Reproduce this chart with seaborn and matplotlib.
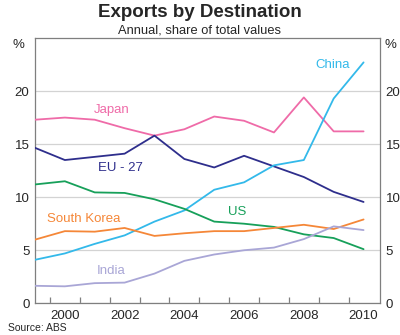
import matplotlib
matplotlib.use("Agg")
import matplotlib.pyplot as plt
import seaborn as sns
import pandas as pd
from matplotlib.ticker import FixedLocator

years = [1999, 2000, 2001, 2002, 2003, 2004, 2005, 2006, 2007, 2008, 2009, 2010]
japan = [17.3, 17.5, 17.3, 16.5, 15.8, 16.4, 17.6, 17.2, 16.1, 19.4, 16.2, 16.2]
eu27 = [14.65, 13.5, 13.8, 14.1, 15.8, 13.6, 12.8, 13.9, 12.9, 11.9, 10.5, 9.55]
china = [4.1, 4.7, 5.6, 6.4, 7.7, 8.75, 10.7, 11.4, 13.0, 13.5, 19.3, 22.7]
us = [11.2, 11.5, 10.45, 10.4, 9.8, 8.9, 7.7, 7.5, 7.2, 6.5, 6.15, 5.1]
south_korea = [6.0, 6.8, 6.75, 7.1, 6.35, 6.6, 6.8, 6.8, 7.1, 7.4, 7.0, 7.9]
india = [1.65, 1.6, 1.9, 1.95, 2.8, 4.0, 4.6, 5.0, 5.25, 6.05, 7.25, 6.9]

series_names = ["Japan", "EU - 27", "China", "US", "South Korea", "India"]
series_values = [japan, eu27, china, us, south_korea, india]
colors = ["#EF6BA8", "#2E2E8C", "#33B9EA", "#17A05A", "#F58738", "#A9A6D6"]
label_pos = [(2001.56, 18.2), (2001.86, 12.75), (2008.98, 22.5),
             (2005.78, 8.65), (2000.64, 7.9), (2001.56, 3.0)]

y_ticks = [0, 5, 10, 15, 20]
x_labels = [2000, 2002, 2004, 2006, 2008, 2010]

rows = []
for name, vals in zip(series_names, series_values):
    for yr, v in zip(years, vals):
        rows.append({"year": yr, "value": v, "series": name})
df = pd.DataFrame(rows)

sns.set_style("white")
plt.rcParams["font.family"] = ["Liberation Sans", "DejaVu Sans"]

fig = plt.figure(figsize=(4.0, 3.35), dpi=100)
ax = fig.add_axes([0.0875, 0.0946, 0.8625, 0.792])

sns.lineplot(data=df, x="year", y="value", hue="series", hue_order=series_names,
             palette=colors, linewidth=1.3, legend=False, ax=ax, zorder=3)

ax.set_xlim(1999, 2010.55)
ax.set_ylim(0, 25)
ax.set_yticks(y_ticks)
ax.yaxis.grid(True, color="#D3D3D3", linewidth=0.9)
ax.set_axisbelow(True)
for s in ax.spines.values():
    s.set_color("#7F7F7F")
    s.set_linewidth(0.9)

ax.set_xticks(x_labels)
ax.set_xticklabels([str(x) for x in x_labels], fontsize=9.5)
ax.xaxis.set_minor_locator(FixedLocator([y + 0.5 for y in years[:-1]]))
ax.tick_params(axis="x", which="major", length=0, pad=5, bottom=True)
ax.tick_params(axis="x", which="minor", direction="in", length=4, color="#7F7F7F",
               width=0.9, bottom=True, top=False)
ax.tick_params(axis="y", length=0, labelsize=9.5, pad=4,
               left=False, right=False, labelleft=True, labelright=True)
ax.set_xlabel("")
ax.set_ylabel("")

for name, c, (lx, ly) in zip(series_names, colors, label_pos):
    ax.text(lx, ly, name, color=c, fontsize=9.5, ha="center", va="center")

fig.text(0.5, 0.962, "Exports by Destination", ha="center", va="center",
         fontsize=13.5, fontweight="bold")
fig.text(0.5, 0.908, "Annual, share of total values", ha="center", va="center", fontsize=9.3)
fig.text(0.045, 0.865, "%", ha="center", va="center", fontsize=9.5)
fig.text(0.975, 0.865, "%", ha="center", va="center", fontsize=9.5)
fig.text(0.02, 0.022, "Source: ABS", ha="left", va="center", fontsize=7.5)

fig.savefig("out.png", dpi=100)
